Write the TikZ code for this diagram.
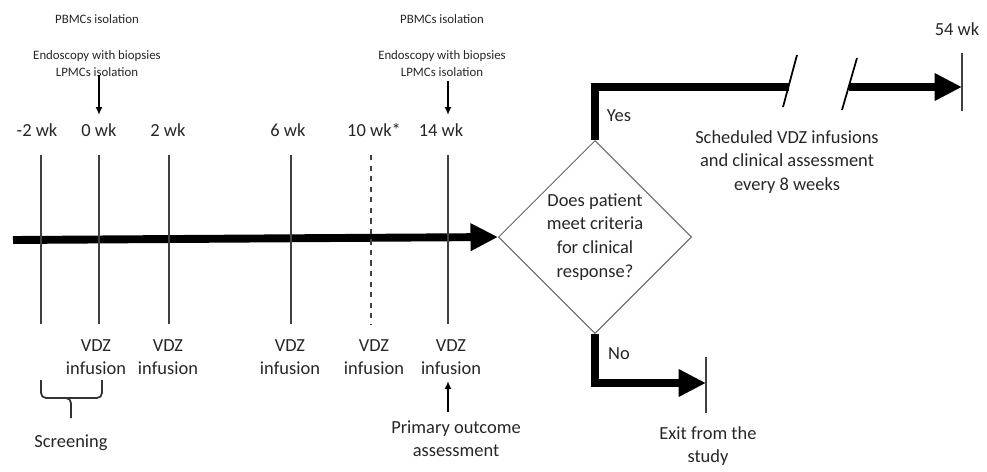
\documentclass[tikz,border=0pt]{standalone}
\usepackage{fontspec}
\setmainfont{Carlito}
\usetikzlibrary{arrows.meta,positioning,calc,shapes.geometric,decorations.pathreplacing}

\begin{document}
\begin{tikzpicture}[x=0.02cm, y=-0.02cm,
  wk/.style={inner sep=0pt, font=\fontsize{10.5}{13}\selectfont, text=black!85},
  lbl/.style={inner sep=0pt, align=center, font=\fontsize{10.5}{13.3}\selectfont, text=black!85},
  small/.style={inner sep=0pt, align=center, font=\fontsize{7.3}{9.6}\selectfont, text=black!85},
  decision/.style={diamond, draw=black!60, line width=0.6pt, aspect=1, inner sep=0pt, minimum size=3.86cm, align=center, font=\fontsize{10.5}{13.6}\selectfont, text=black!85},
  tickline/.style={line width=0.8pt, black!75},
  flow/.style={line width=4.5pt, -{Triangle[length=0.55cm, width=0.52cm]}},
  bar/.style={line width=4.5pt},
  pointer/.style={line width=1pt, -{Latex[length=0.16cm, width=0.14cm]}},
  brk/.style={line width=1pt},
  bracket/.style={line width=1pt, black!80, rounded corners=0.1cm}
]
\useasboundingbox (0,0) rectangle (987,471);

% timeline
\coordinate (start) at (13,240);
\node[decision] (dec) at (595,237) {Does patient\\meet criteria\\for clinical\\response?};
\draw[flow] (start) -- (dec.west);

\node[wk] (lm2) at (37,130) {-2 wk};
\node[wk] (l0) at (99,130) {0 wk};
\node[wk] (l2) at (168,130) {2 wk};
\node[wk] (l6) at (288,130) {6 wk};
\node[wk] (l10) at (374,130) {10 wk*};
\node[wk] (l14) at (441,130) {14 wk};

\draw[tickline] (41,155) -- (41,324);
\draw[tickline] (99,155) -- (99,324);
\draw[tickline] (169,155) -- (169,324);
\draw[tickline] (291,155) -- (291,324);
\draw[tickline, dashed] (371,155) -- (371,324);
\draw[tickline] (448,155) -- (448,324);

% sampling
\node[small] (pbmc0) at (97,19) {PBMCs isolation};
\node[small] (endo0) at (97,64) {Endoscopy with biopsies\\LPMCs isolation};
\node[small] (pbmc14) at (442,19) {PBMCs isolation};
\node[small] (endo14) at (442,64) {Endoscopy with biopsies\\LPMCs isolation};
\draw[pointer] (endo0.south -| l0) ++(0,-2) coordinate (a0) -- (a0 |- 0,115);
\draw[pointer, shorten <=2pt] (endo14.south -| 448,0) -- (448,115);

% infusions
\node[lbl] (inf0) at (96,357) {VDZ\\infusion};
\node[lbl] (inf2) at (168,357) {VDZ\\infusion};
\node[lbl] (inf6) at (290,357) {VDZ\\infusion};
\node[lbl] (inf10) at (374,357) {VDZ\\infusion};
\node[lbl] (inf14) at (451,357) {VDZ\\infusion};

% screening bracket
\draw[bracket] (41,380) |- (71,398) -| (102,380);
\draw[bracket] (62,398) -| (71,418);
\node[lbl] (screen) at (71,443) {Screening};

\node[lbl] (prim) at (456,439) {Primary outcome\\assessment};
\draw[pointer] (448,412) -- (448,381);

% yes branch
\coordinate (brk1) at (789,87);
\coordinate (brk2) at (849,87);
\coordinate (tip54) at (962,87);
\draw[bar] (dec.north) |- (brk1);
\draw[brk] (797,55) -- (783,107);
\draw[brk] (857,58) -- (842,110);
\draw[flow] (brk2) -- (tip54);
\draw[tickline] (962,53) -- (962,111);
\node[wk] (l54) at (957,29) {54 wk};
\node[lbl] (yes) at (619,116) {Yes};
\node[lbl] (sched) at (787,162) {Scheduled VDZ infusions\\and clinical assessment\\every 8 weeks};

% no branch
\coordinate (exit) at (706,383);
\draw[flow] (dec.south) |- (exit);
\draw[tickline] (706,357) -- (706,413);
\node[lbl] (no) at (619,354) {No};
\node[lbl] (exittxt) at (708,446) {Exit from the\\study};

\end{tikzpicture}
\end{document}
